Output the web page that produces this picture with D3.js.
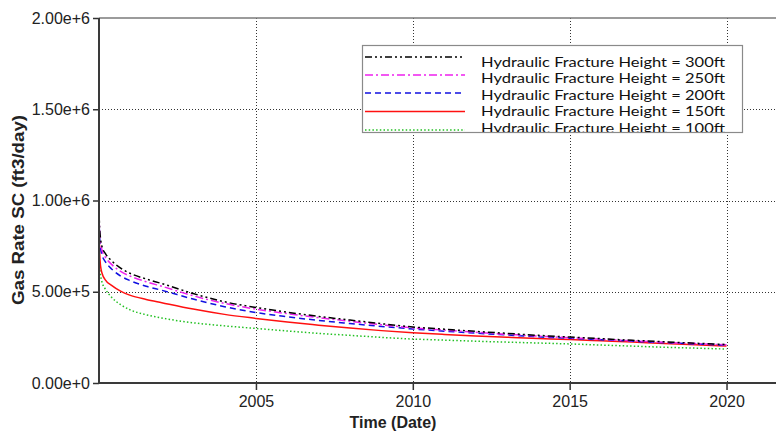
<!DOCTYPE html>
<html>
<head>
<meta charset="utf-8">
<script src="https://cdn.jsdelivr.net/npm/d3@7"></script>
<style>
  html, body { margin: 0; padding: 0; background: #fff; }
  svg { display: block; }
</style>
</head>
<body>
<svg id="chart" width="776" height="434"></svg>
<script>
// Sample times, in fractional years
const times = [2000.0, 2000.02, 2000.05, 2000.1, 2000.2, 2000.4, 2000.7, 2001.0, 2001.5, 2002, 2003, 2004, 2005, 2006, 2007, 2008, 2009, 2010, 2011, 2012, 2013, 2014, 2015, 2016, 2017, 2018, 2019, 2020];

// Gas rate (ft3/day) per hydraulic fracture height
const rate300 = [945e3, 850e3, 790e3, 745e3, 710e3, 670e3, 628e3, 600e3, 570e3, 545e3, 490e3, 445e3, 414e3, 388e3, 365e3, 345e3, 325e3, 307e3, 295e3, 283e3, 272e3, 261e3, 252e3, 243e3, 234e3, 226e3, 218e3, 211e3];
const rate250 = [925e3, 830e3, 770e3, 725e3, 690e3, 650e3, 610e3, 585e3, 555e3, 530e3, 478e3, 436e3, 405e3, 380e3, 358e3, 338e3, 319e3, 302e3, 290e3, 278e3, 267e3, 257e3, 248e3, 240e3, 231e3, 223e3, 216e3, 209e3];
const rate200 = [905e3, 800e3, 740e3, 700e3, 665e3, 625e3, 585e3, 560e3, 530e3, 508e3, 460e3, 418e3, 386e3, 363e3, 343e3, 326e3, 310e3, 296e3, 284e3, 273e3, 263e3, 253e3, 245e3, 237e3, 229e3, 221e3, 214e3, 207e3];
const rate150 = [885e3, 720e3, 640e3, 600e3, 565e3, 535e3, 502e3, 480e3, 458e3, 440e3, 405e3, 376e3, 354e3, 334e3, 317e3, 301e3, 287e3, 275e3, 266e3, 258e3, 251e3, 244e3, 238e3, 231e3, 224e3, 216e3, 209e3, 203e3];
const rate100 = [720e3, 640e3, 590e3, 550e3, 515e3, 470e3, 428e3, 400e3, 374e3, 356e3, 330e3, 313e3, 299e3, 285e3, 272e3, 261e3, 250e3, 241e3, 235e3, 229e3, 224e3, 219e3, 214e3, 208e3, 202e3, 196e3, 191e3, 186e3];

const seriesNames = [
  "Hydraulic Fracture Height = 300ft",
  "Hydraulic Fracture Height = 250ft",
  "Hydraulic Fracture Height = 200ft",
  "Hydraulic Fracture Height = 150ft",
  "Hydraulic Fracture Height = 100ft"
];
const seriesValues = [rate300, rate250, rate200, rate150, rate100];

const xTickYears = [2005, 2010, 2015, 2020];
const yTickValues = [0, 5e5, 1e6, 1.5e6, 2e6];
const yTickLabels = ["0.00e+0", "5.00e+5", "1.00e+6", "1.50e+6", "2.00e+6"];

// Line styles per series
const styles = [
  { color: "#000000", dash: "7,3,2,3,2,3", width: 1.5 },
  { color: "#ee22ee", dash: "8,3,2,3", width: 1.5 },
  { color: "#1010e0", dash: "6,4", width: 1.5 },
  { color: "#ff1010", dash: null, width: 1.5 },
  { color: "#22c022", dash: "1.5,2.2", width: 1.5 }
];

function yearToDate(yv) {
  const yr = Math.floor(yv);
  const a = Date.UTC(yr, 0, 1), b = Date.UTC(yr + 1, 0, 1);
  return new Date(a + (yv - yr) * (b - a));
}

const svg = d3.select("#chart");
const plotLeft = 99, plotTop = 18, plotBottom = 383, plotRight = 805;

const x = d3.scaleUtc()
  .domain([yearToDate(2000), yearToDate(2022.5)])
  .range([plotLeft, plotRight]);
const y = d3.scaleLinear().domain([0, 2e6]).range([plotBottom, plotTop]);

// Grid
const grid = svg.append("g").attr("stroke", "#333").attr("stroke-width", 1).attr("stroke-dasharray", "1,2");
grid.selectAll("line.h").data(yTickValues.filter(v => v > 0 && v < 2e6)).join("line")
  .attr("class", "h")
  .attr("x1", plotLeft).attr("x2", 776)
  .attr("y1", d => Math.round(y(d)) + 0.5).attr("y2", d => Math.round(y(d)) + 0.5);
grid.selectAll("line.v").data(xTickYears).join("line")
  .attr("class", "v")
  .attr("x1", d => Math.round(x(yearToDate(d))) + 0.5).attr("x2", d => Math.round(x(yearToDate(d))) + 0.5)
  .attr("y1", plotTop).attr("y2", plotBottom);

// Top frame
svg.append("line").attr("x1", plotLeft).attr("x2", 776).attr("y1", plotTop).attr("y2", plotTop)
  .attr("stroke", "#7a7a7a").attr("stroke-width", 1.5);

// Curves
const line = d3.line()
  .x((d, i) => x(yearToDate(times[i])))
  .y(d => y(d))
  .curve(d3.curveMonotoneX);

const curves = svg.append("g").attr("fill", "none");
seriesValues.slice().reverse().forEach((vals, k) => {
  const s = styles[seriesValues.length - 1 - k];
  curves.append("path")
    .attr("d", line(vals))
    .attr("stroke", s.color)
    .attr("stroke-width", s.width)
    .attr("stroke-dasharray", s.dash);
});

// Axes
const yAxis = d3.axisLeft(y)
  .tickValues(yTickValues)
  .tickFormat((d, i) => yTickLabels[i])
  .tickSize(6).tickPadding(3);
const gy = svg.append("g").attr("transform", `translate(${plotLeft},0)`).call(yAxis);
gy.select(".domain").remove();
gy.selectAll(".tick line").attr("stroke", "#333").attr("stroke-width", 1.5);
gy.selectAll(".tick text").attr("fill", "#222")
  .style("font-family", "'Liberation Sans', Arial, sans-serif").style("font-size", "16px");

const xAxis = d3.axisBottom(x)
  .tickValues(xTickYears.map(yearToDate))
  .tickFormat(d3.utcFormat("%Y"))
  .tickSize(7).tickPadding(6);
const gx = svg.append("g").attr("transform", `translate(0,${plotBottom})`).call(xAxis);
gx.select(".domain").remove();
gx.selectAll(".tick line").attr("stroke", "#333").attr("stroke-width", 1.5);
gx.selectAll(".tick text").attr("fill", "#222")
  .style("font-family", "'Liberation Sans', Arial, sans-serif").style("font-size", "16px");

svg.append("line").attr("x1", plotLeft).attr("x2", plotLeft).attr("y1", plotTop).attr("y2", plotBottom + 1)
  .attr("stroke", "#3a3a3a").attr("stroke-width", 2);
svg.append("line").attr("x1", plotLeft - 1).attr("x2", 776).attr("y1", plotBottom).attr("y2", plotBottom)
  .attr("stroke", "#3a3a3a").attr("stroke-width", 2);

// Axis titles
svg.append("text")
  .attr("x", 393).attr("y", 428)
  .attr("text-anchor", "middle")
  .attr("fill", "#222")
  .style("font-family", "'Liberation Sans', Arial, sans-serif")
  .style("font-size", "16px").style("font-weight", "bold")
  .text("Time (Date)");

svg.append("text")
  .attr("transform", "translate(24,210) rotate(-90)")
  .attr("text-anchor", "middle")
  .attr("fill", "#222")
  .attr("textLength", 190).attr("lengthAdjust", "spacingAndGlyphs")
  .style("font-family", "'Liberation Sans', Arial, sans-serif")
  .style("font-size", "16px").style("font-weight", "bold")
  .text("Gas Rate SC (ft3/day)");

// Legend
const lx = 362, ly = 45, lw = 380, lh = 87;
svg.append("clipPath").attr("id", "legendClip")
  .append("rect").attr("x", lx).attr("y", ly).attr("width", lw).attr("height", lh);
const legend = svg.append("g");
legend.append("rect")
  .attr("x", lx + 0.5).attr("y", ly + 0.5).attr("width", lw).attr("height", lh)
  .attr("fill", "#fff").attr("stroke", "#8a8a8a").attr("stroke-width", 1.2);
const legendInner = legend.append("g").attr("clip-path", "url(#legendClip)");
const lineYs = [57, 75, 93, 111.5, 130];
const textYs = [66.5, 83, 99.5, 116, 132.5];
seriesNames.forEach((name, i) => {
  const s = styles[i];
  legendInner.append("line")
    .attr("x1", 365).attr("x2", 465)
    .attr("y1", lineYs[i]).attr("y2", lineYs[i])
    .attr("stroke", s.color).attr("stroke-width", s.width)
    .attr("stroke-dasharray", s.dash);
  legendInner.append("text")
    .attr("x", 481).attr("y", textYs[i])
    .attr("fill", "#111")
    .attr("textLength", 244).attr("lengthAdjust", "spacingAndGlyphs")
    .style("font-family", "Lato, 'Open Sans', sans-serif")
    .style("font-size", "14px")
    .text(name);
});
</script>
</body>
</html>
